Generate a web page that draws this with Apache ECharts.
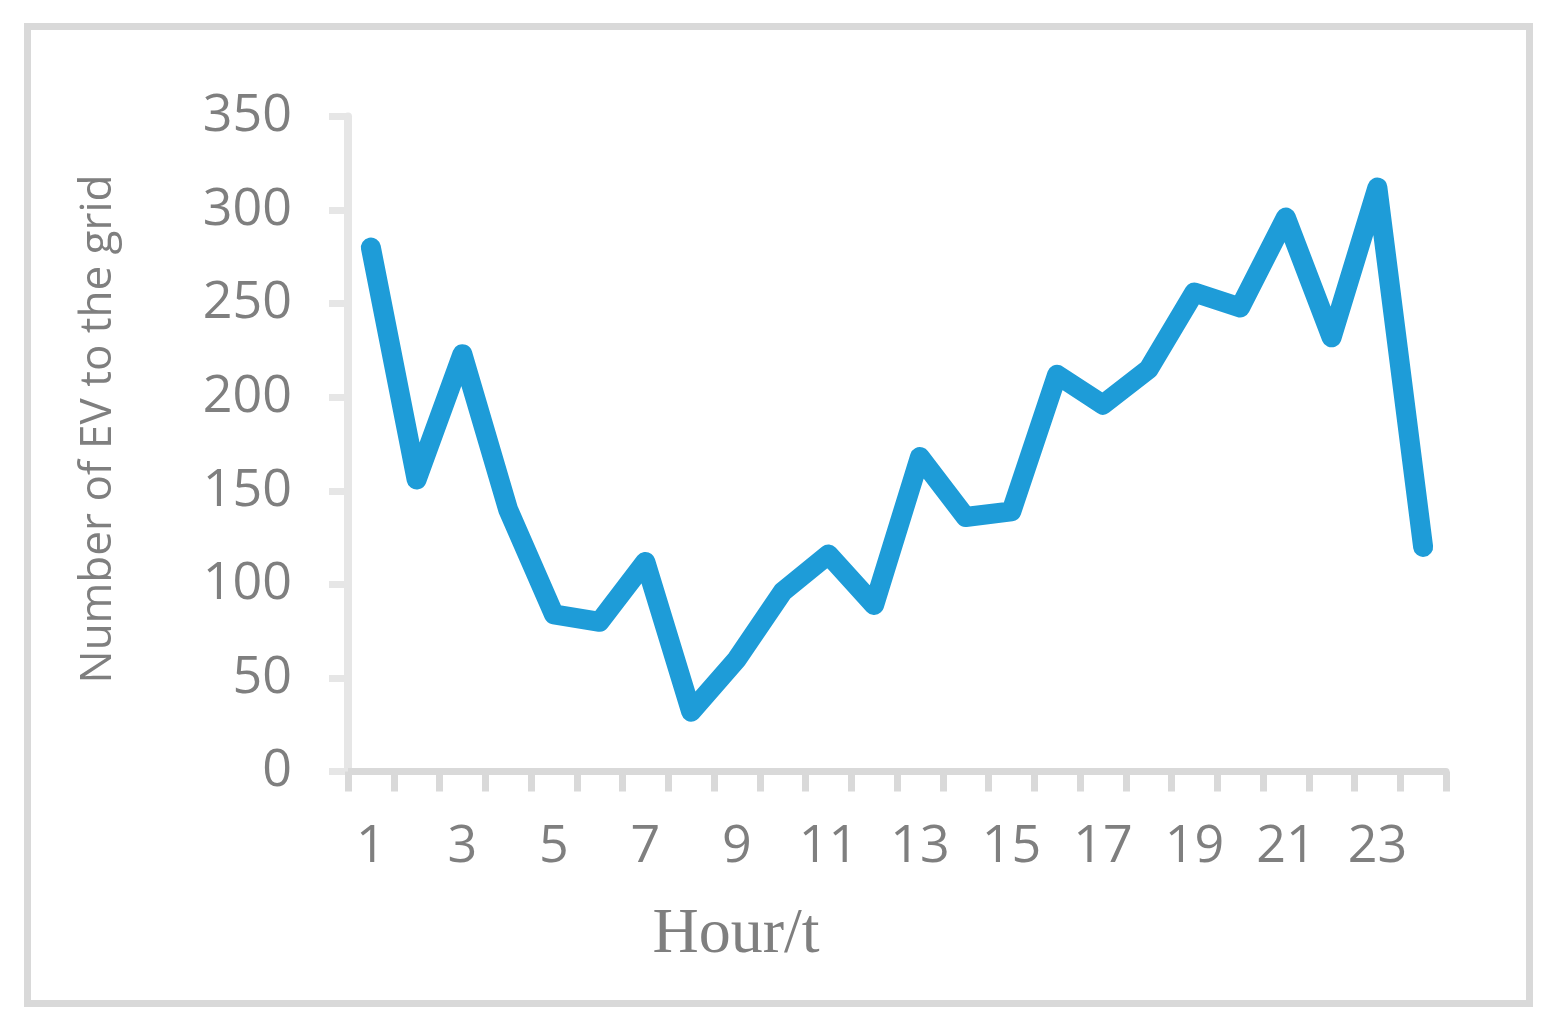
<!DOCTYPE html>
<html><head><meta charset="utf-8">
<script src="https://cdn.jsdelivr.net/npm/echarts@6/dist/echarts.min.js"></script>
<style>html,body{margin:0;padding:0;background:#fff}#c{width:1563px;height:1033px}</style>
</head><body><div id="c"></div>
<script>
const hours = ['1','2','3','4','5','6','7','8','9','10','11','12','13','14','15','16','17','18','19','20','21','22','23','24'];
const evCount = [280,156,223,140,84,80,112,32,60,96,116,89,168,136,139,212,196,215,256,248,296,232,312,120];
const yMin = 0, yMax = 350, yStep = 50;
const xName = 'Hour/t';
const yName = 'Number of EV to the grid';

const chart = echarts.init(document.getElementById('c'), null, {renderer: 'canvas'});
const gray = '#7f7f7f';
chart.setOption({
  backgroundColor: '#ffffff',
  animation: false,
  graphic: [{
    type: 'rect', silent: true,
    shape: {x: 27.5, y: 26.5, width: 1502, height: 977},
    style: {fill: 'none', stroke: '#d9d9d9', lineWidth: 7}
  }],
  grid: {left: 348, right: 117, top: 116.5, bottom: 261.5, containLabel: false},
  xAxis: {
    type: 'category', data: hours, boundaryGap: true,
    name: xName, nameLocation: 'middle', nameGap: 132,
    nameTextStyle: {fontFamily: '"Liberation Serif", serif', fontSize: 64, color: gray, padding: [0, 322, 0, 0]},
    axisLine: {show: true, lineStyle: {color: '#d9d9d9', width: 7}},
    axisTick: {show: true, interval: 0, alignWithLabel: false, length: 20, lineStyle: {color: '#d9d9d9', width: 7}},
    axisLabel: {interval: 1, margin: 50, fontFamily: '"Open Sans", sans-serif', fontSize: 52, color: gray},
    splitLine: {show: false}
  },
  yAxis: {
    type: 'value', min: yMin, max: yMax, interval: yStep,
    name: yName, nameLocation: 'middle', nameGap: 196, nameRotate: 90,
    nameTextStyle: {fontFamily: '"Open Sans", sans-serif', fontSize: 44, color: gray, padding: [0, 0, 32, 30]},
    axisLine: {show: true, lineStyle: {color: '#e6e6e6', width: 8}},
    axisTick: {show: true, length: 19, lineStyle: {color: '#e6e6e6', width: 7}},
    axisLabel: {margin: 56, fontFamily: '"Open Sans", sans-serif', fontSize: 52, color: gray},
    splitLine: {show: false}
  },
  series: [{
    type: 'line', data: evCount, symbol: 'none',
    lineStyle: {color: '#1e9cd8', width: 20, cap: 'round', join: 'round'}
  }]
});
</script></body></html>
